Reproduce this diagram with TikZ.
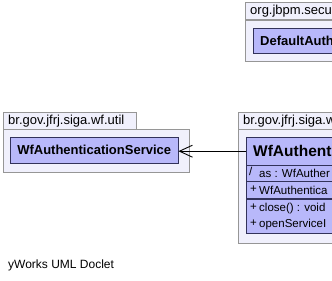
\documentclass[tikz,border=0pt]{standalone}
\usepackage{fontspec}
\setmainfont{Liberation Sans}
\usetikzlibrary{arrows.meta,positioning}
\definecolor{pkgfill}{RGB}{240,240,252}
\definecolor{pkgline}{RGB}{150,150,150}
\definecolor{classfill}{RGB}{184,184,250}
\definecolor{classline}{RGB}{50,50,90}

\begin{document}
\begin{tikzpicture}[
    x=1pt, y=-1pt,
    pkgtab/.style={rectangle, draw=pkgline, fill=pkgfill, anchor=north west, minimum height=17pt, inner xsep=5pt, inner ysep=0pt, text width=123pt, align=left, font=\fontsize{13}{13}\selectfont},
    pkgbody/.style={rectangle, draw=pkgline, fill=pkgfill, anchor=north west, inner sep=0pt},
    classbox/.style={rectangle, draw=classline, fill=classfill, anchor=north west, inner sep=0pt},
    classname/.style={classbox, inner xsep=7pt, font=\bfseries\fontsize{13}{13}\selectfont},
    member/.style={anchor=west, inner sep=0pt, font=\fontsize{11.5}{11.5}\selectfont},
    arrow/.style={-{Straight Barb[length=13pt, width=12pt]}, line width=0.9pt}
]
\useasboundingbox (0,0) rectangle (332,281);
\fill[white] (0,0) rectangle (332,281);
\clip (0,0) rectangle (332,281);

% === org.jbpm.security (top right) ===
\node[pkgbody, minimum width=110pt, minimum height=41pt] (secpkg) at (245,20) {};
\node[pkgtab] (sectab) at (245,2) {org.jbpm.secu};
\node[classname, minimum width=100pt, minimum height=25pt, text width=86pt, align=left] (defauth) at (253,28) {DefaultAuth};

% === br.gov.jfrj.siga.wf.util (left) ===
\node[pkgbody, minimum width=186pt, minimum height=43pt] (utilpkg) at (3,129) {};
\node[pkgtab] (utiltab) at (3,112) {br.gov.jfrj.siga.wf.util};
\node[classname, minimum width=168pt, minimum height=26pt] (service) at (10,137) {WfAuthenticationService};

% === br.gov.jfrj.siga.wf (right) ===
\node[pkgbody, minimum width=120pt, minimum height=114pt] (wfpkg) at (238,129) {};
\node[pkgtab] (wftab) at (238,112) {br.gov.jfrj.siga.w};
\node[classbox, minimum width=110pt, minimum height=96pt] (wfauth) at (246,137) {};
\node[classname, minimum width=110pt, minimum height=28pt, text width=96pt, align=left,
      font=\bfseries\fontsize{15.5}{15.5}\selectfont] (wftitle) at (246,137) {WfAuthent};

% attribute and operation compartments
\draw[classline] (246,181) -- (356,181);
\draw[classline, line width=1.2pt] (246,199) -- (356,199);

\node[member] (asvis) at (249,171) {/};
\node[member] (asattr) at (259,173) {as : WfAuther};
\node[member] (ctorvis) at (250,189) {+};
\node[member] (ctor) at (259,190) {WfAuthentica};
\node[member] (closevis) at (250,207) {+};
\node[member] (closeop) at (259,209) {close() : void};
\node[member] (openvis) at (250,223) {+};
\node[member] (openop) at (259,225) {openServiceI};

% dependency
\draw[arrow] (wftitle.west) -- (wftitle.west -| service.east);

% footer
\node[member, font=\fontsize{12}{12}\selectfont] (footer) at (8,265) {yWorks UML Doclet};

\end{tikzpicture}
\end{document}
